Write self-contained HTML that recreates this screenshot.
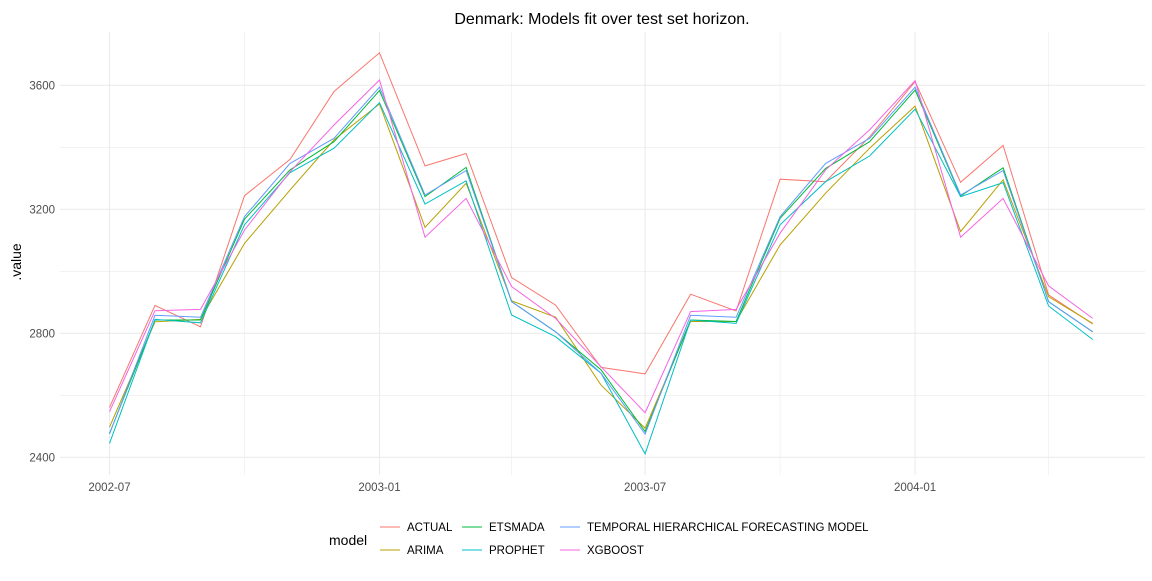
<!DOCTYPE html>
<html><head><meta charset="utf-8"><style>
body{margin:0;background:#fff;font-family:"Liberation Sans",sans-serif;}
svg text{font-family:"Liberation Sans",sans-serif;}
</style></head><body>
<svg id="chart" width="1152" height="576" xmlns="http://www.w3.org/2000/svg">
<rect width="1152" height="576" fill="#fff"/>
<text x="602" y="24" font-size="16" text-anchor="middle" fill="#000">Denmark: Models fit over test set horizon.</text>
<g id="grid"></g>
<g id="series"></g>
<g id="axes"></g>
<text transform="translate(21,262) rotate(-90)" font-size="14" text-anchor="middle" fill="#000">.value</text>
<g id="legend"></g>
</svg>
<script>
const dates = ["2002-07","2002-08","2002-09","2002-10","2002-11","2002-12","2003-01","2003-02","2003-03","2003-04","2003-05","2003-06","2003-07","2003-08","2003-09","2003-10","2003-11","2003-12","2004-01","2004-02","2004-03","2004-04","2004-05"];
const models = ["ACTUAL","ARIMA","ETSMADA","PROPHET","TEMPORAL HIERARCHICAL FORECASTING MODEL","XGBOOST"];
const colors = ["#F8766D","#B79F00","#00BA38","#00BFC4","#619CFF","#F564E3"];
const actual = [2561,2890,2821,3244,3361,3580,3705,3340,3380,2980,2891,2690,2669,2926,2872,3297,3289,3434,3612,3287,3406,2924,2830];
const arima = [2497,2837,2845,3090,3262,3424,3540,3142,3284,2905,2852,2633,2494,2838,2838,3085,3252,3397,3533,3128,3295,2918,2832];
const etsmada = [2477,2843,2843,3168,3327,3418,3583,3241,3335,2902,2805,2682,2483,2843,2838,3171,3332,3418,3585,3243,3334,2902,2805];
const prophet = [2445,2845,2834,3150,3318,3397,3544,3217,3292,2859,2789,2671,2411,2843,2832,3150,3289,3372,3523,3241,3286,2888,2780];
const temporal = [2475,2858,2852,3176,3348,3429,3594,3246,3325,2902,2805,2671,2475,2858,2852,3176,3348,3429,3594,3246,3325,2902,2805];
const xgboost = [2547,2873,2877,3133,3321,3472,3617,3110,3235,2951,2848,2692,2544,2870,2877,3123,3327,3456,3615,3110,3235,2953,2848];
const yTicks = [2400,2800,3200,3600];
const xTicks = ["2002-07","2003-01","2003-07","2004-01"];
const xMinor = ["2002-10","2003-04","2003-10","2004-04"];

const NS="http://www.w3.org/2000/svg";
const t0 = Date.UTC(2002,6,1);
function dayOf(s){const [y,m]=s.split("-").map(Number);return (Date.UTC(y,m-1,1)-t0)/864e5;}
function xs(s){return 109.5 + dayOf(s)*1.4674;}
function ys(v){return 85.3 + (3600-v)*0.31;}
function mk(tag,attrs,parent){const e=document.createElementNS(NS,tag);for(const k in attrs)e.setAttribute(k,attrs[k]);parent.appendChild(e);return e;}
const grid=document.getElementById("grid"), axes=document.getElementById("axes"), ser=document.getElementById("series"), leg=document.getElementById("legend");
const L=60,R=1145,T=32,B=475;
// minor y
for(let i=0;i<yTicks.length-1;i++){const v=(yTicks[i]+yTicks[i+1])/2;
 const l=mk("line",{x1:L,x2:R,y1:ys(v),y2:ys(v),stroke:"#ebebeb","stroke-width":0.6},grid);
 
 }
for(const m of xMinor){const l=mk("line",{x1:xs(m),x2:xs(m),y1:T,y2:B,stroke:"#ebebeb","stroke-width":0.6},grid);
 
 }
for(const v of yTicks){const l=mk("line",{x1:L,x2:R,y1:ys(v),y2:ys(v),stroke:"#ebebeb","stroke-width":1.1},grid);
 
 
 const t=mk("text",{x:55,y:ys(v)+4,"font-size":11.5,"text-anchor":"end",fill:"#4d4d4d"},axes);t.textContent=v;
 
 }
for(const m of xTicks){const l=mk("line",{x1:xs(m),x2:xs(m),y1:T,y2:B,stroke:"#ebebeb","stroke-width":1.1},grid);
 
 
 const t=mk("text",{x:xs(m),y:491,"font-size":11.5,"text-anchor":"middle",fill:"#4d4d4d"},axes);t.textContent=m;
 
 }
const seriesData=[actual,arima,etsmada,prophet,temporal,xgboost];
seriesData.forEach((arr,i)=>{
 const p=mk("polyline",{points:arr.map((v,j)=>xs(dates[j]).toFixed(1)+","+ys(v).toFixed(1)).join(" "),fill:"none",stroke:colors[i],"stroke-width":1},ser);
 
 
});
// legend
const lt=mk("text",{x:329,y:545,"font-size":14,fill:"#000"},leg);lt.textContent="model";


const pos=[[380,527],[380,550],[462,527],[462,550],[560,527],[560,550]];
models.forEach((m,i)=>{
 const g=mk("g",{},leg);
 
 
 const [x,y]=pos[i];
 mk("line",{x1:x,x2:x+20,y1:y,y2:y,stroke:colors[i],"stroke-width":1},g);
 const t=mk("text",{x:x+27,y:y+4,"font-size":11.5,fill:"#000"},g);t.textContent=m;
});
</script>
</body></html>
